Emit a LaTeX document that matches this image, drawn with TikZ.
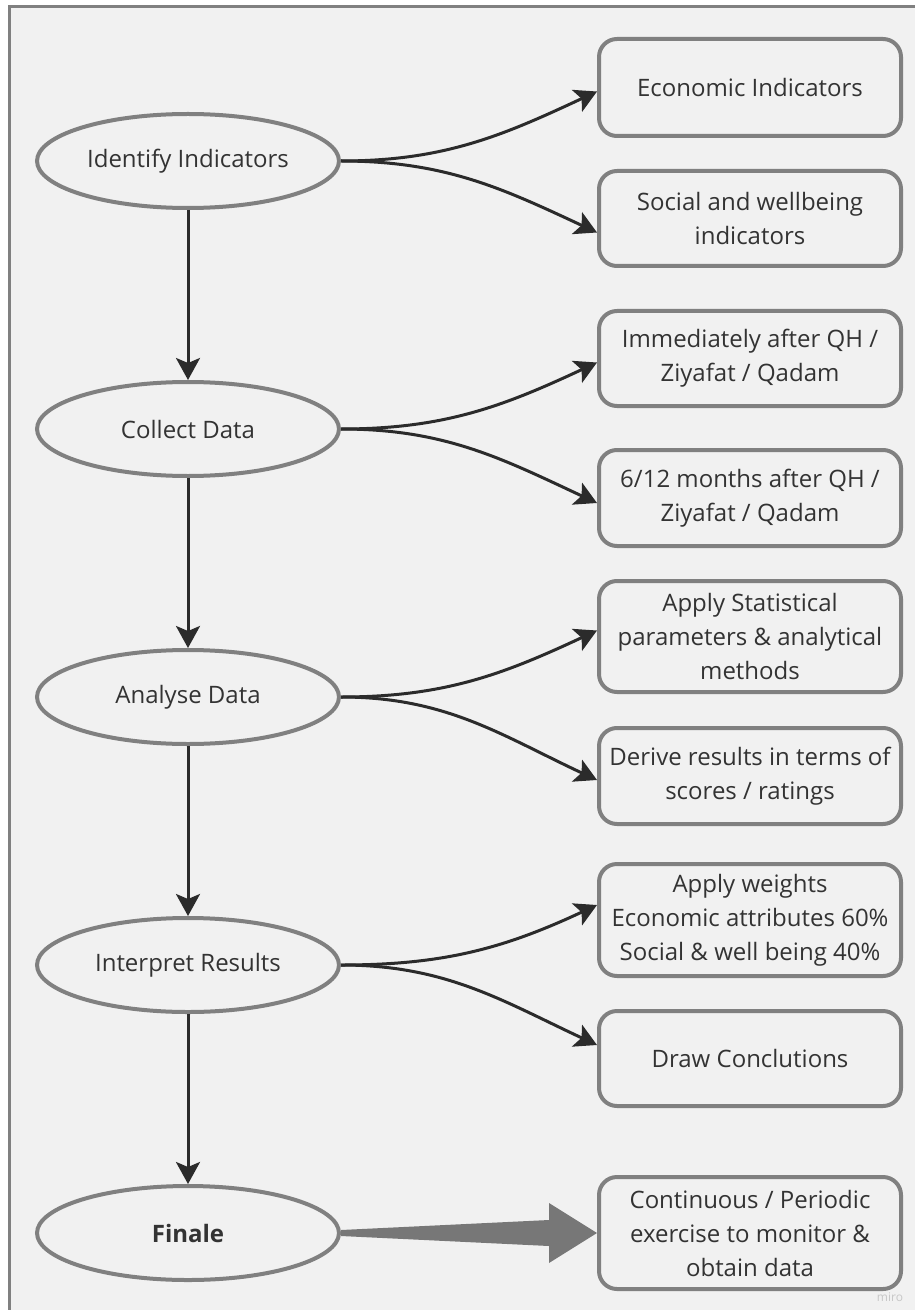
\documentclass[tikz,border=0pt]{standalone}
\usepackage{fontspec}
\setmainfont{Open Sans}
\usetikzlibrary{graphs,positioning,arrows.meta,shapes.geometric}
\definecolor{paper}{HTML}{F1F1F1}
\definecolor{rim}{HTML}{808080}
\definecolor{ink}{HTML}{333333}
\definecolor{wire}{HTML}{2B2B2B}
\definecolor{fatgray}{HTML}{777777}
\tikzset{
    phase/.style ={
        shape=ellipse,
        draw=rim,
        fill=paper,
        line width=2pt,
        text=ink,
        inner sep=0pt,
        minimum width=151pt,
        minimum height=47pt,
        font=\fontsize{12}{17}\selectfont
    },
    outcome/.style ={
        shape=rectangle,
        rounded corners=9pt,
        draw=rim,
        fill=paper,
        line width=2pt,
        text=ink,
        align=center,
        inner sep=0pt,
        minimum width=151pt,
        minimum height=47.5pt,
        font=\fontsize{12}{17}\selectfont
    },
    link/.style ={
        draw=wire,
        line width=1.5pt,
        ->
    }
}

\begin{document}
\begin{tikzpicture}[x=0.5pt,y=-0.5pt,>={Stealth[length=11pt,width=12pt,inset=2.5pt]}]
    \useasboundingbox (0,0) rectangle (915,1310);
    \fill[white] (0,0) rectangle (915,1310);
    \fill[paper] (9,7) rectangle (915,1310);
    \draw[rim,line width=1.5pt] (9,1310) -- (9,7) -- (915,7);

    % steps on the left
    \node[phase] (identify) at (188,161) {Identify Indicators};
    \node[phase,below=85pt of identify] (collect) {Collect Data};
    \node[phase,below=85pt of collect] (analyse) {Analyse Data};
    \node[phase,below=85pt of analyse] (interpret) {Interpret Results};
    \node[phase,below=85pt of interpret,font=\fontsize{12}{17}\selectfont\bfseries] (finale) {Finale};

    % boxes on the right
    \node[outcome,right=128pt of identify,yshift=36.75pt,minimum height=48.5pt] (econ) {Economic Indicators};
    \node[outcome,right=128pt of identify,yshift=-28.75pt] (social) {Social and wellbeing\\indicators};
    \node[outcome,right=128pt of collect,yshift=35.25pt] (soon) {Immediately after QH /\\Ziyafat / Qadam};
    \node[outcome,right=128pt of collect,yshift=-34.5pt,minimum height=48pt] (later) {6/12 months after QH /\\Ziyafat / Qadam};
    \node[outcome,right=128pt of analyse,yshift=30.25pt,minimum height=55.5pt] (stats) {Apply Statistical\\parameters \& analytical\\methods};
    \node[outcome,right=128pt of analyse,yshift=-39.5pt,minimum height=48pt] (derive) {Derive results in terms of\\scores / ratings};
    \node[outcome,right=128pt of interpret,yshift=22.5pt,minimum height=56pt] (weights) {Apply weights\\Economic attributes 60\%\\Social \& well being 40\%};
    \node[outcome,right=128pt of interpret,yshift=-46.75pt] (conclude) {Draw Conclutions};
    \node[outcome,right=128pt of finale,minimum height=56pt] (exercise) {Continuous / Periodic\\exercise to monitor \&\\obtain data};

    \node[text=black!22,font=\fontsize{6}{6}\selectfont] (mark) at (890,1297) {miro};

    \graph[edges={link}]{
        (identify)->(collect)->(analyse)->(interpret)->(finale);
    };

    \draw[link] (identify.east) to[out=0,in=205] ([yshift=-2pt]econ.west);
    \draw[link] (identify.east) to[out=0,in=155] ([yshift=-7pt]social.west);
    \draw[link] (collect.east) to[out=0,in=205] ([yshift=-2pt]soon.west);
    \draw[link] (collect.east) to[out=0,in=155] ([yshift=-2.5pt]later.west);
    \draw[link] (analyse.east) to[out=0,in=205] ([yshift=3pt]stats.west);
    \draw[link] (analyse.east) to[out=0,in=155] ([yshift=-2pt]derive.west);
    \draw[link] (interpret.east) to[out=0,in=205] ([yshift=7.5pt]weights.west);
    \draw[link] (interpret.east) to[out=0,in=155] ([yshift=6.75pt]conclude.west);

    % fat arrow to the last box
    \fill[fatgray] ([yshift=1.5pt]finale.east) -- ([xshift=-24pt,yshift=6.5pt]exercise.west)
        -- ([xshift=-24pt,yshift=15pt]exercise.west) -- (exercise.west)
        -- ([xshift=-24pt,yshift=-15pt]exercise.west) -- ([xshift=-24pt,yshift=-6.5pt]exercise.west)
        -- ([yshift=-1.5pt]finale.east) -- cycle;
\end{tikzpicture}
\end{document}
